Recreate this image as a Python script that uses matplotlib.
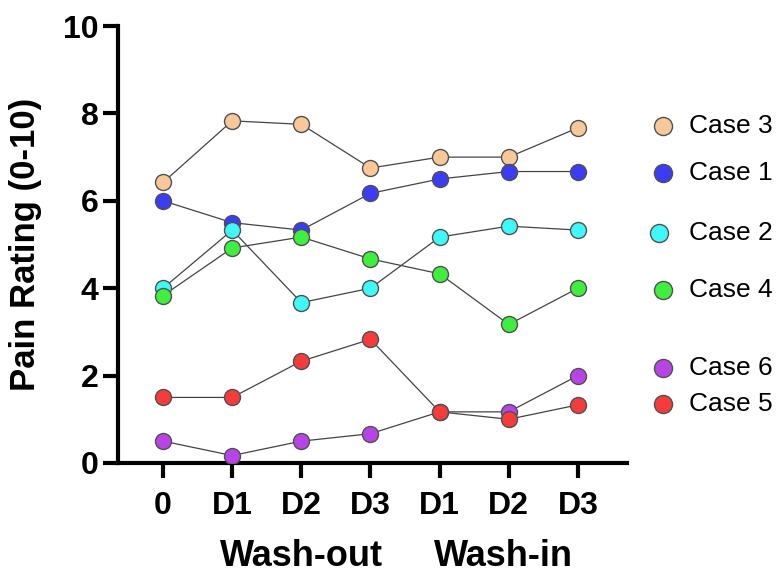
import matplotlib.pyplot as plt
from matplotlib.lines import Line2D

plt.rcParams['font.family'] = ['Liberation Sans', 'DejaVu Sans']

# time points: baseline, wash-out days, wash-in days
tick_labels = ["0", "D1", "D2", "D3", "D1", "D2", "D3"]
x_pos = list(range(len(tick_labels)))

case1 = [6.0, 5.5, 5.33, 6.17, 6.5, 6.67, 6.67]
case2 = [4.0, 5.33, 3.67, 4.0, 5.17, 5.42, 5.33]
case3 = [6.42, 7.83, 7.75, 6.75, 7.0, 7.0, 7.67]
case4 = [3.83, 4.92, 5.17, 4.67, 4.33, 3.17, 4.0]
case5 = [1.5, 1.5, 2.33, 2.83, 1.17, 1.0, 1.33]
case6 = [0.5, 0.17, 0.5, 0.67, 1.17, 1.17, 2.0]

series = [
    ("Case 3", case3, "#F9C898"),
    ("Case 1", case1, "#3C3CF5"),
    ("Case 2", case2, "#40F8F8"),
    ("Case 4", case4, "#40EE40"),
    ("Case 6", case6, "#B844E6"),
    ("Case 5", case5, "#F53C3C"),
]

fig = plt.figure(figsize=(7.77, 5.72), dpi=100)
ax = fig.add_axes([0.152, 0.1906, 0.655, 0.7639])

# lines first, markers on top
for name, vals, col in series:
    ax.plot(x_pos, vals, color="#444444", lw=0.9, zorder=2)
for name, vals, col in series:
    ax.plot(x_pos, vals, ls="none", marker="o", ms=11.5, mfc=col,
            mec="#505050", mew=1.0, zorder=3)

ax.set_xlim(-0.65, 6.71)
ax.set_ylim(0, 10)
ax.set_yticks([0, 2, 4, 6, 8, 10])
ax.set_xticks(x_pos)
ax.set_xticklabels(tick_labels)

for s in ["top", "right"]:
    ax.spines[s].set_visible(False)
for s in ["left", "bottom"]:
    ax.spines[s].set_linewidth(3)

ax.tick_params(axis="both", width=3, length=11, labelsize=23)
ax.tick_params(axis="x", pad=9)
ax.tick_params(axis="y", pad=3)
for lab in ax.get_xticklabels() + ax.get_yticklabels():
    lab.set_fontweight("bold")

ax.set_ylabel("Pain Rating (0-10)", fontsize=25, fontweight="bold")
ax.yaxis.set_label_coords(-0.15, 0.5)

# group labels under the ticks
ax.text(2, -0.213, "Wash-out", transform=ax.get_xaxis_transform(),
        ha="center", va="center", fontsize=26, fontweight="bold")
ax.text(4.92, -0.213, "Wash-in", transform=ax.get_xaxis_transform(),
        ha="center", va="center", fontsize=26, fontweight="bold")

# legend entries placed next to end values, like the original
leg_y = [126, 173, 233, 290, 368, 404]
leg_x = [663, 663, 659, 663, 663, 663]
W, H = 777, 572
for (name, vals, col), ly, lx in zip(series, leg_y, leg_x):
    fig.add_artist(Line2D([lx / W], [1 - ly / H], ls="none", marker="o",
                          ms=13, mfc=col, mec="#505050", mew=1.0))
    fig.text(689 / W, 1 - ly / H, name, ha="left", va="center", fontsize=19)

fig.savefig("out.png", dpi=100)
